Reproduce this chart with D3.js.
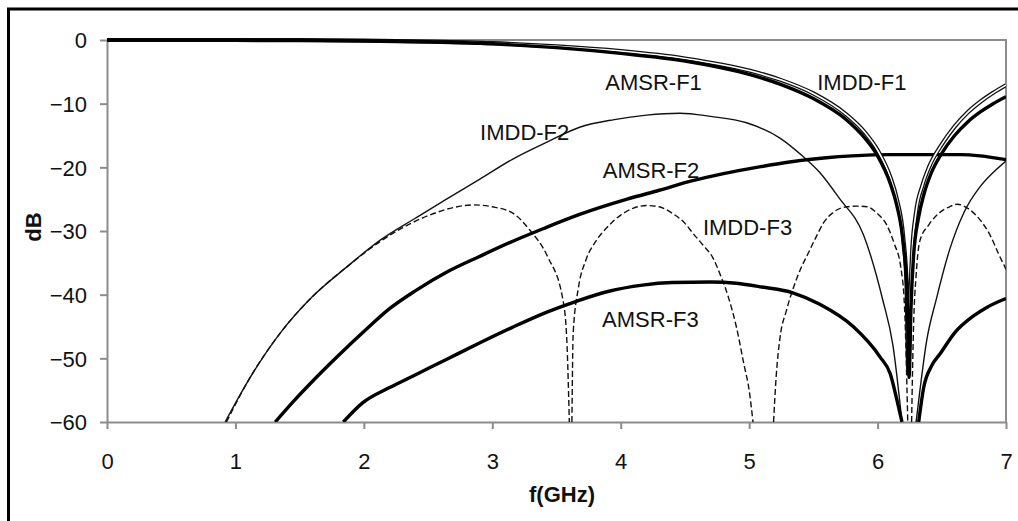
<!DOCTYPE html>
<html>
<head>
<meta charset="utf-8">
<script src="https://cdn.jsdelivr.net/npm/d3@7"></script>
<style>
  html, body { margin: 0; padding: 0; background: #fff; }
  svg { display: block; }
  text { font-family: Arial, "Liberation Sans", sans-serif; fill: #111; }
</style>
</head>
<body>
<svg id="chart" width="1018" height="521"></svg>
<script>
// ---------------- data ----------------
const xTicks = [0, 1, 2, 3, 4, 5, 6, 7];
const yTicks = [0, -10, -20, -30, -40, -50, -60];

// AMSR-F1 (thick)
const amsrF1_f  = [0, 0.5, 1, 1.5, 2, 2.5, 3, 3.5, 4, 4.5, 5, 5.25, 5.5, 5.75, 5.9, 6.0, 6.1, 6.15, 6.2, 6.23, 6.245, 6.26, 6.28, 6.32, 6.36, 6.42, 6.5, 6.6, 6.7, 6.8, 6.9, 7.0];
const amsrF1_db = [0, 0, -0.01, -0.04, -0.11, -0.28, -0.6, -1.2, -2.1, -3.3, -5.4, -7.0, -9.2, -12.4, -15.4, -18.2, -22.6, -26.0, -32.0, -40, -53, -42, -34, -27.8, -24.3, -20.8, -17.8, -15.0, -12.9, -11.3, -10.0, -8.9];

// IMDD-F1 (double line)
const imddF1_f  = [0, 0.5, 1, 1.5, 2, 2.5, 3, 3.5, 4, 4.5, 5, 5.25, 5.5, 5.75, 5.9, 6.0, 6.1, 6.15, 6.2, 6.225, 6.24, 6.255, 6.27, 6.3, 6.35, 6.4, 6.5, 6.6, 6.7, 6.8, 6.9, 7.0];
const imddF1_db = [0, 0, 0, -0.03, -0.09, -0.24, -0.5, -1.0, -1.75, -2.9, -4.8, -6.3, -8.4, -11.6, -14.5, -17.3, -21.6, -25.0, -31.0, -38, -52, -40, -33, -27, -22.8, -20.0, -16.4, -13.6, -11.4, -9.7, -8.3, -7.1];

// AMSR-F2 (thick)
const amsrF2_f  = [1.31, 1.45, 1.61, 1.8, 2.0, 2.2, 2.4, 2.65, 2.9, 3.16, 3.4, 3.68, 4.05, 4.3, 4.56, 4.8, 5.09, 5.3, 5.6, 5.8, 6.1, 6.4, 6.65, 6.8, 7.0];
const amsrF2_db = [-60, -56.8, -53.4, -49.6, -45.8, -42.2, -39.4, -36.4, -34.0, -31.6, -29.6, -27.4, -25.0, -23.6, -22.1, -21.0, -19.9, -19.2, -18.5, -18.2, -18.0, -18.0, -18.0, -18.2, -18.8];

// IMDD-F2 (thin), null marks a break at the notch
const imddF2_f  = [0.92, 1.1, 1.35, 1.6, 1.87, 2.13, 2.4, 2.65, 2.9, 3.16, 3.43, 3.68, 3.95, 4.2, 4.46, 4.7, 4.98, 5.24, 5.42, 5.55, 5.7, 5.89, 6.04, 6.12, 6.19, 6.24, 6.3, 6.33, 6.38, 6.46, 6.56, 6.67, 6.8, 6.9, 7.0];
const imddF2_db = [-60, -53.5, -46, -40.3, -35.6, -31.4, -28.0, -24.9, -21.9, -18.7, -16.0, -13.7, -12.5, -11.8, -11.5, -12.0, -13.0, -15.4, -18.3, -20.8, -24.8, -30.6, -40.8, -48, -60, null, -60, -55, -47.5, -40.5, -33.0, -27.2, -23.0, -20.8, -19.0];

// IMDD-F3 (dashed), nulls mark breaks at the notches
const imddF3_f  = [0.93, 1.1, 1.35, 1.6, 1.87, 2.13, 2.3, 2.5, 2.7, 2.85, 3.0, 3.16, 3.29, 3.43, 3.55, 3.58, 3.6,
                   3.61,
                   3.62, 3.63, 3.67, 3.73, 3.8, 3.9, 4.0, 4.1, 4.2, 4.3, 4.4, 4.5, 4.56, 4.64, 4.72, 4.77, 4.84, 4.9, 4.96, 5.0, 5.03,
                   5.1,
                   5.19, 5.21, 5.24, 5.29, 5.34, 5.4, 5.45, 5.52, 5.58, 5.66, 5.76, 5.84, 5.92, 6.0, 6.07, 6.13, 6.18, 6.21, 6.235,
                   6.25,
                   6.265, 6.28, 6.3, 6.33, 6.4, 6.49, 6.56, 6.62, 6.7, 6.8, 6.88, 6.94, 7.0];
const imddF3_db = [-60, -53.5, -46, -40.3, -35.6, -31.6, -29.5, -27.6, -26.3, -25.9, -26.2, -27.2, -29.8, -34, -40.8, -47, -60,
                   null,
                   -60, -46, -39, -34.5, -31.8, -29.3, -27.5, -26.4, -26.0, -26.2, -27.2, -28.8, -30.3, -32.2, -34.3, -36.6, -40.5, -45, -51, -55, -60,
                   null,
                   -60, -53, -46.8, -42.5, -39.2, -36, -33.9, -31, -28.7, -27, -26.2, -26.1, -26.2, -27.3, -29, -32, -35.6, -42, -60,
                   null,
                   -60, -45, -37, -31.5, -29, -27, -26.2, -25.8, -26.4, -28.3, -30.8, -33.5, -36];

// AMSR-F3 (thick)
const amsrF3_f  = [1.84, 1.99, 2.2, 2.38, 2.65, 2.9, 3.16, 3.43, 3.66, 3.9, 4.17, 4.4, 4.7, 4.9, 5.1, 5.34, 5.55, 5.81, 6.02, 6.1, 6.15, 6.19,
                   6.25,
                   6.32, 6.36, 6.42, 6.49, 6.6, 6.75, 6.85, 7.0];
const amsrF3_db = [-60, -57, -54.6, -52.8, -50.1, -47.6, -45.1, -42.7, -41.0, -39.5, -38.5, -38.1, -38.0, -38.2, -38.8, -39.7, -41.5, -45, -49.8, -52.5, -56.5, -60,
                   null,
                   -60, -54.5, -51.2, -49.2, -46, -43.3, -42, -40.6];

const curveLabels = [
  { text: "AMSR-F1", f: 3.88, db: -7.8 },
  { text: "IMDD-F1", f: 5.53, db: -7.9 },
  { text: "IMDD-F2", f: 2.905, db: -15.7 },
  { text: "AMSR-F2", f: 3.86, db: -21.7 },
  { text: "IMDD-F3", f: 4.64, db: -30.6 },
  { text: "AMSR-F3", f: 3.855, db: -45.0 }
];

// ---------------- drawing ----------------
const svg = d3.select("#chart");
const W = 1018, H = 521;
const x = d3.scaleLinear().domain([0, 7]).range([107, 1006]);
const y = d3.scaleLinear().domain([-60, 0]).range([422, 40]);
const AXIS_GRAY = "#8c8c8c";

// outer frame (only left/top visible in the reference)
svg.append("rect")
  .attr("x", 8.5).attr("y", 9).attr("width", W + 10).attr("height", H + 10)
  .attr("fill", "none").attr("stroke", "#000").attr("stroke-width", 3);

// plot frame top/right
svg.append("path")
  .attr("d", `M${x(0)},${y(0)}H${x(7)}V${y(-60)}`)
  .attr("fill", "none").attr("stroke", AXIS_GRAY).attr("stroke-width", 2);

// axes
const gx = svg.append("g").attr("transform", `translate(0,${y(-60)})`)
  .call(d3.axisBottom(x).tickValues(xTicks).tickFormat(d3.format("d")).tickSize(7).tickSizeOuter(0).tickPadding(24));
const gy = svg.append("g").attr("transform", `translate(${x(0)},0)`)
  .call(d3.axisLeft(y).tickValues(yTicks).tickFormat(d3.format("d")).tickSize(7).tickSizeOuter(0).tickPadding(13));
[gx, gy].forEach(g => {
  g.select(".domain").attr("stroke", AXIS_GRAY).attr("stroke-width", 2);
  g.selectAll(".tick line").attr("stroke", AXIS_GRAY).attr("stroke-width", 2);
  g.selectAll(".tick text").attr("fill", "#111").style("font-size", "22px")
    .style("font-family", "Arial, 'Liberation Sans', sans-serif");
});
gy.selectAll(".tick text").attr("dy", "0.36em");

// axis titles
svg.append("text").attr("x", 562).attr("y", 502).attr("text-anchor", "middle")
  .style("font-size", "22px").style("font-weight", "bold").text("f(GHz)");
svg.append("text").attr("transform", "translate(41,227) rotate(-90)").attr("text-anchor", "middle")
  .style("font-size", "22px").style("font-weight", "bold").text("dB");

// clip
svg.append("clipPath").attr("id", "plotclip").append("rect")
  .attr("x", x(0)).attr("y", y(0) - 4).attr("width", x(7) - x(0)).attr("height", y(-60) - y(0) + 4);
const plot = svg.append("g").attr("clip-path", "url(#plotclip)");

function pts(fs, dbs) { return fs.map((f, i) => ({ f: f, db: dbs[i] })); }
const line = d3.line()
  .defined(d => d.db !== null)
  .x(d => x(d.f)).y(d => y(d.db))
  .curve(d3.curveMonotoneX);

function drawSeries(data, width, color, dash) {
  const p = plot.append("path").datum(data).attr("d", line)
    .attr("fill", "none").attr("stroke", color).attr("stroke-width", width)
    .attr("stroke-linejoin", "round").attr("stroke-linecap", "butt");
  if (dash) p.attr("stroke-dasharray", dash);
  return p;
}

drawSeries(pts(imddF3_f, imddF3_db), 1.4, "#111", "6,3");
drawSeries(pts(imddF2_f, imddF2_db), 1.4, "#111");
drawSeries(pts(amsrF3_f, amsrF3_db), 3.4, "#000");
drawSeries(pts(amsrF2_f, amsrF2_db), 3.4, "#000");
// IMDD-F1 double line
drawSeries(pts(imddF1_f, imddF1_db), 4.2, "#111");
drawSeries(pts(imddF1_f, imddF1_db), 1.6, "#fff");
drawSeries(pts(amsrF1_f, amsrF1_db), 3.4, "#000");

// curve labels
svg.selectAll("text.clabel").data(curveLabels).enter().append("text")
  .attr("class", "clabel")
  .attr("x", d => x(d.f)).attr("y", d => y(d.db))
  .style("font-size", "22px")
  .text(d => d.text);
</script>
</body>
</html>
